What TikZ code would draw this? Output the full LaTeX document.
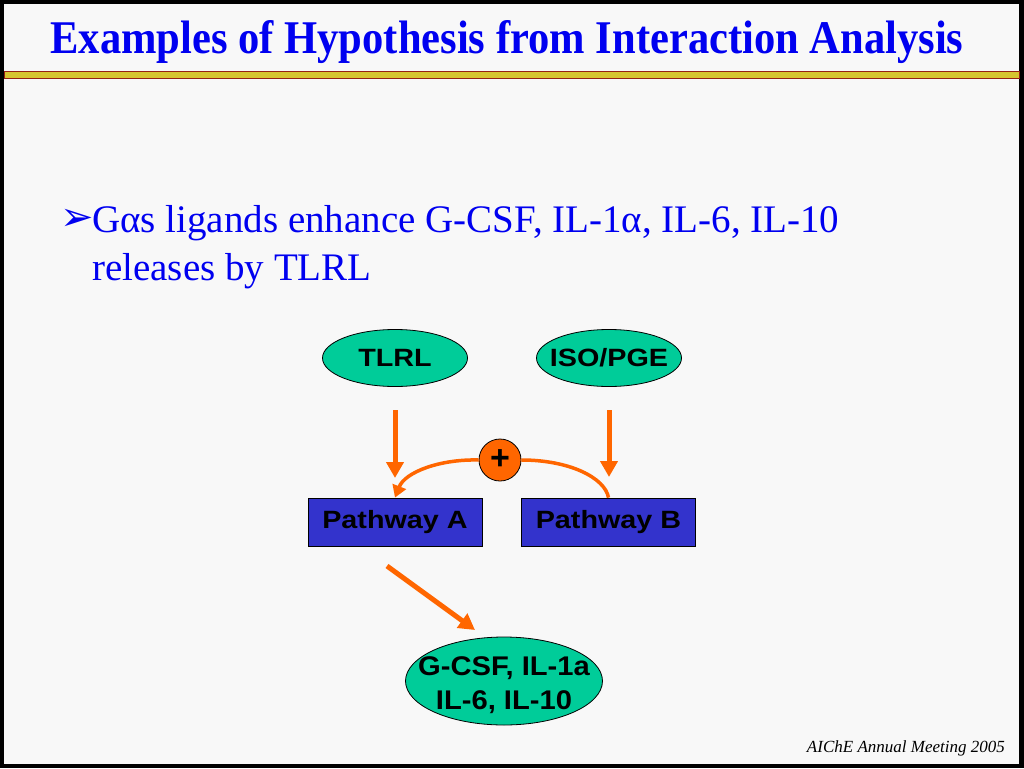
\documentclass[tikz,border=0pt]{standalone}
\usepackage{fontspec}
\setmainfont{Liberation Serif}
\newfontfamily\arialb{Liberation Sans}
\newfontfamily\dejavu{DejaVu Sans}
\usetikzlibrary{shapes.geometric,arrows.meta}
\definecolor{bg}{RGB}{248,248,248}
\definecolor{ttl}{RGB}{0,0,240}
\definecolor{grn}{RGB}{0,204,153}
\definecolor{blu}{RGB}{51,51,204}
\definecolor{org}{RGB}{255,102,0}
\definecolor{barY}{RGB}{214,196,48}
\definecolor{barR}{RGB}{150,30,20}
\newcommand{\wide}[1]{\makebox[0pt]{\scalebox{1.15}[1]{#1}}}
\tikzset{
  oval/.style={ellipse,draw=black,line width=0.8pt,fill=grn,font=\arialb\bfseries\fontsize{25}{28}\selectfont,inner sep=0pt,align=center},
  pbox/.style={rectangle,draw=black,line width=0.8pt,fill=blu,font=\arialb\bfseries\fontsize{25}{28}\selectfont,minimum width=174pt,minimum height=48pt,inner sep=0pt},
  bigarrow/.style={draw=org,line width=5pt,-{Triangle[length=16pt,width=17pt]}},
  curvearrow/.style={draw=org,line width=3.5pt},
}
\begin{document}
\begin{tikzpicture}[x=1pt,y=-1pt]
\useasboundingbox (0,0) rectangle (1024,768);
\fill[black] (0,0) rectangle (1024,768);
\fill[bg] (4,4) rectangle (1019,764);
% title
\node[anchor=base,text=ttl,inner sep=0pt] (title) at (507,53) {\resizebox{913pt}{33pt}{\bfseries Examples of Hypothesis from Interaction Analysis}};
\draw[barR,line width=1pt,fill=barY] (4,71) rectangle (1019,78);
% bullet
\node[anchor=base west,text=ttl,inner sep=0pt] (bul) at (60,230) {\dejavu\fontsize{40}{40}\selectfont ➢};
\node[anchor=base west,text=ttl,inner sep=0pt,font=\fontsize{39}{48}\selectfont] (l1) at (92,232) {Gαs ligands enhance G-CSF, IL-1α, IL-6, IL-10};
\node[anchor=base west,text=ttl,inner sep=0pt,font=\fontsize{39}{48}\selectfont] (l2) at (92,280) {releases by TLRL};
% diagram
\node[oval,minimum width=145pt,minimum height=57pt] (tlrl) at (395,358) {\wide{TLRL}};
\node[oval,minimum width=145pt,minimum height=57pt] (iso) at (609,358) {\wide{ISO/PGE}};
\node[pbox] (pa) at (395,522) {\wide{Pathway A}};
\node[pbox] (pb) at (608.5,522) {\wide{Pathway B}};
\node[oval,minimum width=197pt,minimum height=88pt] (out) at (504,681) {};
\node[inner sep=0pt,align=center,font=\arialb\bfseries\fontsize{27}{34}\selectfont] (outtxt) at (504,685) {\scalebox{1.08}[1]{G-CSF, IL-1a}\\\scalebox{1.08}[1]{IL-6, IL-10}};
\node[circle,draw=black,line width=0.8pt,fill=org,minimum size=42pt,inner sep=0pt,font=\arialb\bfseries\fontsize{34}{34}\selectfont] (plus) at (500,460) {\makebox[0pt]{+}};
\coordinate (ta) at (395,410);
\coordinate (tb) at (609,410);
\draw[bigarrow] (ta) -- (395,478);
\draw[bigarrow] (tb) -- (609,477);
\draw[curvearrow,-{Triangle[length=12pt,width=14pt]}] (plus.west) .. controls (440,459) and (405,472) .. (pa.north);
\draw[curvearrow] (plus.east) .. controls (570,460) and (605,478) .. (pb.north);
\coordinate (da) at (387,566);
\draw[bigarrow] (da) -- (475,630);
% footer
\node[anchor=base east,inner sep=0pt,font=\itshape\fontsize{17}{20}\selectfont] (foot) at (1005,752) {AIChE Annual Meeting 2005};
\end{tikzpicture}
\end{document}
